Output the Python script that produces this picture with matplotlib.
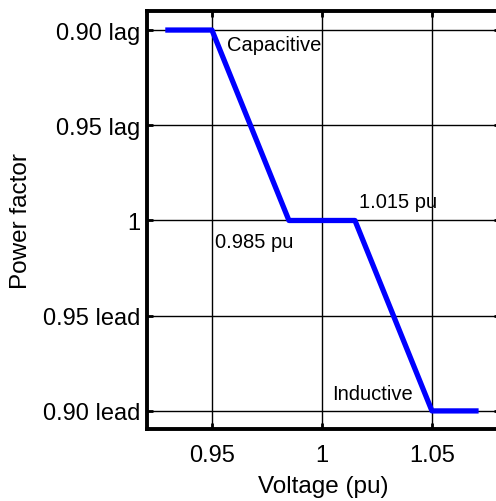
"""
Volt/var style power factor control curve: power factor set point vs voltage.
"""

import matplotlib
matplotlib.use("Agg")
import matplotlib.pyplot as plt

plt.rcParams["font.family"] = ["Liberation Sans", "DejaVu Sans"]

# Curve breakpoints (voltage in pu, power factor on an ordinal scale)
voltage = [0.93, 0.95, 0.985, 1.015, 1.05, 1.07]
pf_level = [2, 2, 0, 0, -2, -2]

x_ticks = [0.95, 1.0, 1.05]
x_tick_labels = ["0.95", "1", "1.05"]
y_ticks = [2, 1, 0, -1, -2]
y_tick_labels = ["0.90 lag", "0.95 lag", "1", "0.95 lead", "0.90 lead"]

fig = plt.figure(figsize=(4.96, 5.02), dpi=100)
ax = fig.add_axes([0.2964, 0.1434, 0.712, 0.8327])

ax.plot(voltage, pf_level, color="#0000ff", linewidth=3.8,
        solid_joinstyle="round", zorder=3)

ax.set_xlim(0.9205, 1.081)
ax.set_ylim(-2.19, 2.2)
ax.set_xticks(x_ticks)
ax.set_xticklabels(x_tick_labels)
ax.set_yticks(y_ticks)
ax.set_yticklabels(y_tick_labels)

ax.grid(True, color="black", linewidth=1.0, linestyle="-")
ax.set_axisbelow(True)
ax.tick_params(direction="in", length=4, width=2, top=True, right=True,
               labelsize=17)
ax.tick_params(axis="x", pad=11)
ax.tick_params(axis="y", pad=5)
for side in ["left", "bottom", "top"]:
    ax.spines[side].set_linewidth(2.8)
ax.spines["right"].set_visible(False)

ax.set_xlabel("Voltage (pu)", fontsize=17.5, labelpad=6)
ax.set_ylabel("Power factor", fontsize=17.5, labelpad=8)

# Annotations
ax.text(0.9568, 1.85, "Capacitive", fontsize=14.5, va="center", ha="left")
ax.text(0.9514, -0.22, "0.985 pu", fontsize=14.5, va="center", ha="left")
ax.text(1.0168, 0.2, "1.015 pu", fontsize=14.5, va="center", ha="left")
ax.text(1.0045, -1.815, "Inductive", fontsize=14.5, va="center", ha="left")

plt.savefig("out.png", dpi=100)
plt.close()
